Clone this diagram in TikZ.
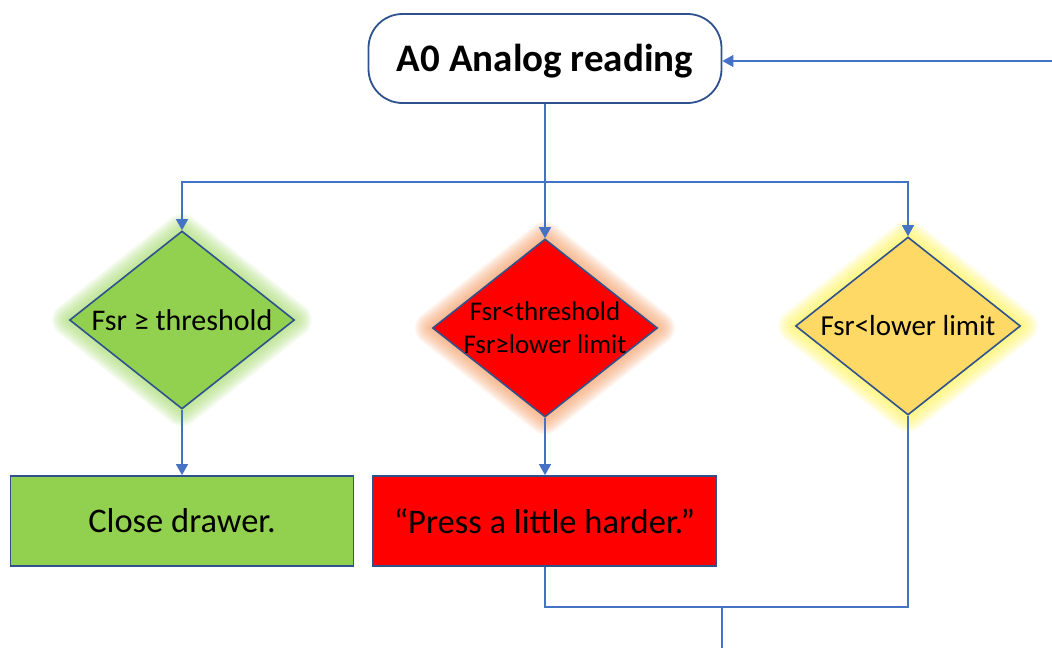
\documentclass[tikz,border=0pt]{standalone}
\usepackage{fontspec}
\setmainfont{Carlito}
\usetikzlibrary{shapes.geometric,arrows.meta,backgrounds}
\definecolor{conn}{HTML}{4472C4}
\definecolor{edgeblue}{HTML}{2F528F}
\definecolor{greenfill}{HTML}{92D050}
\definecolor{redfill}{HTML}{FF0000}
\definecolor{yellowfill}{HTML}{FFD966}
\definecolor{greenglow}{HTML}{A9DC74}
\definecolor{orangeglow}{HTML}{F4A06A}
\definecolor{yellowglow}{HTML}{FFF35A}
\begin{document}
\begin{tikzpicture}[x=1pt,y=-1pt,
  every node/.style={text=black},
  startbox/.style={draw=edgeblue,line width=1.8pt,fill=white,rounded corners=34pt,
    minimum width=353pt,minimum height=89pt,inner sep=0pt},
  starttext/.style={inner sep=0pt,font=\fontsize{39}{44}\selectfont\bfseries},
  decision/.style={shape=diamond,draw=edgeblue,line width=1.6pt,inner sep=0pt,
    minimum width=225pt,minimum height=178pt},
  dlabel/.style={inner sep=0pt,align=center},
  actbox/.style={draw=edgeblue,line width=1.8pt,minimum width=343pt,minimum height=90pt,
    inner sep=0pt,font=\fontsize{34.5}{40}\selectfont},
  conn/.style={draw=conn,line width=1.2pt},
  arrow/.style={conn,-{Triangle[width=12pt,length=11pt]}},
  glowlayer/.style={line width=#1,line join=round,draw opacity=0.1}
]
\useasboundingbox (0,0) rectangle (1052,648);

\node[startbox] (start) at (545,58.5) {};
\node[starttext] (startt) at ([yshift=-3pt]start.center) {A0 Analog reading};

\node[decision,fill=greenfill] (d1) at (182,320) {};
\node[decision,fill=redfill] (d2) at (545,328) {};
\node[decision,fill=yellowfill] (d3) at (908,326) {};
\node[dlabel,font=\fontsize{30}{34}\selectfont] (d1t) at (d1) {Fsr ≥ threshold};
\node[dlabel,font=\fontsize{27}{33}\selectfont] (d2t) at (d2) {Fsr<threshold\\Fsr≥lower limit};
\node[dlabel,font=\fontsize{29}{34}\selectfont] (d3t) at (d3) {Fsr<lower limit};

\node[actbox,fill=greenfill] (b1) at (182,521) {Close drawer.};
\node[actbox,fill=redfill] (b2) at (544.5,521) {“Press a little harder.”};

\begin{scope}[on background layer]
  \foreach \d/\c in {d1/greenglow,d2/orangeglow,d3/yellowglow}{
    \foreach \w in {3,6,...,33}{
      \draw[glowlayer=\w pt,draw=\c] (\d.north) -- (\d.east) -- (\d.south) -- (\d.west) -- cycle;
    }
  }
\end{scope}

\coordinate (in) at (1052,61);
\draw[arrow] (in) -- (in -| start.east);

\draw[conn] (start.south) -- ++(0,78) coordinate (split);
\draw[arrow] (split) -| (d1.north);
\draw[arrow] (split) -| (d3.north);
\draw[arrow] (split) -- (d2.north);

\draw[arrow] (d1.south) -- (b1.north);
\draw[arrow] (d2.south) -- (b2.north -| d2.south);

\coordinate (merge) at (722,607);
\coordinate (out) at (722,648);
\draw[conn] (b2.south -| d2.south) |- (merge);
\draw[conn] (d3.south) |- (merge);
\draw[conn] (merge) -- (out);
\end{tikzpicture}
\end{document}
